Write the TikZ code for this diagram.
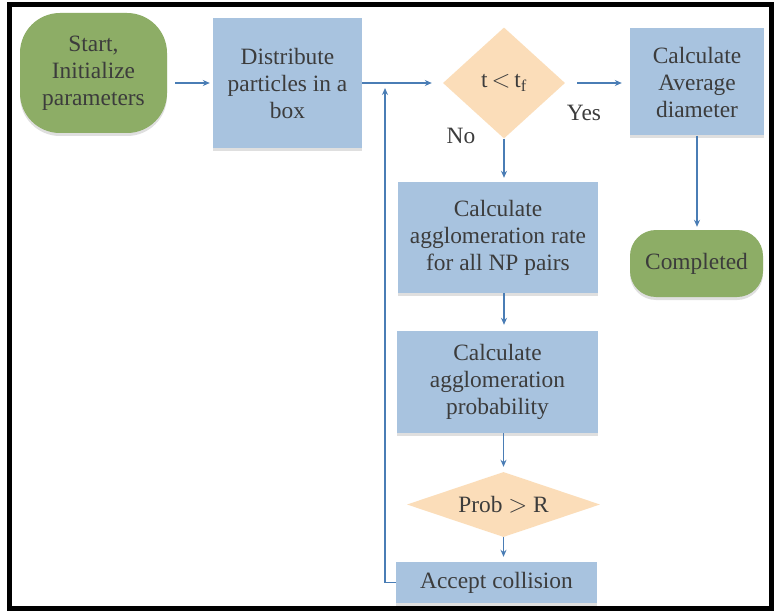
\documentclass[tikz,border=0pt]{standalone}
\usepackage{fontspec}
\setmainfont{Liberation Serif}
\newfontfamily\diagfont{Liberation Serif}
\usetikzlibrary{shapes.geometric,arrows.meta,shadows}
\definecolor{boxblue}{HTML}{A8C3DF}
\definecolor{startgreen}{HTML}{8DAD66}
\definecolor{peach}{HTML}{FBDDB9}
\definecolor{arrowblue}{HTML}{4A7DB5}
\definecolor{txt}{HTML}{3C3C3C}
\begin{document}
\begin{tikzpicture}[x=1pt,y=-1pt,
  every node/.style={font=\diagfont\fontsize{23.4}{27}\selectfont, text=txt, align=center},
  procbox/.style={rectangle, fill=boxblue, inner sep=2pt,
     drop shadow={shadow xshift=0pt, shadow yshift=-3pt, opacity=0.25, fill=gray}},
  termbox/.style={rectangle, fill=startgreen, inner sep=2pt,
     drop shadow={shadow xshift=0pt, shadow yshift=-3pt, opacity=0.25, fill=gray}},
  decbox/.style={diamond, fill=peach, inner sep=0pt},
  flow/.style={draw=arrowblue, line width=1.4pt, -{Stealth[length=7pt,width=6pt]}},
  lbl/.style={font=\diagfont\fontsize{23.4}{27}\selectfont, text=txt}
]
\useasboundingbox (0,0) rectangle (776,615);
\fill[white] (0,0) rectangle (776,615);
\draw[black, line width=5pt] (9.5,4.5) rectangle (771.5,608.5);

\node[termbox, rounded corners=40pt, minimum width=147pt, minimum height=120pt] (start) at (93.5,73) {Start,\\Initialize\\parameters};
\node[procbox, minimum width=149pt, minimum height=130pt] (dist) at (287.5,83) {Distribute\\particles in a\\box};
\node[decbox, minimum width=122pt, minimum height=111pt] (tdia) at (504,83) {t\,$<$\,t\textsubscript{f}};
\node[procbox, minimum width=134pt, minimum height=107pt] (avg) at (697,82) {Calculate\\Average\\diameter};
\node[termbox, rounded corners=26pt, minimum width=133pt, minimum height=67pt] (comp) at (696.5,263.5) {Completed};
\node[procbox, minimum width=200pt, minimum height=111pt] (rate) at (498,237.5) {Calculate\\agglomeration rate\\for all NP pairs};
\node[procbox, minimum width=201pt, minimum height=102pt] (prob) at (497.5,382) {Calculate\\agglomeration\\probability};
\node[decbox, shape aspect=3.4, minimum width=193pt, minimum height=65pt] (pdia) at (503.5,504.5) {Prob $>$ R};
\node[procbox, minimum width=201pt, minimum height=41pt] (acc) at (496.5,582.5) {Accept collision};

\node[lbl] (yes) at (584,113) {Yes};
\node[lbl] (no) at (461,136) {No};

\coordinate (lt) at (385,88);

\draw[flow, shorten <=8pt, shorten >=3pt] (start.east |- dist.west) -- (dist.west);
\draw[flow, shorten >=11pt] (dist.east) -- (tdia.west);
\draw[flow, shorten <=12pt, shorten >=8pt] (tdia.east) -- (tdia.east -| avg.west);
\draw[flow, shorten >=3pt] (avg.south) -- (avg.south |- comp.north);
\draw[flow, shorten >=4pt] (tdia.south) -- (tdia.south |- rate.north);
\draw[flow, shorten >=6pt] (rate.south -| tdia.south) -- (tdia.south |- prob.north);
\draw[flow, shorten >=5pt] (prob.south -| pdia.south) -- (pdia.north);
\draw[flow, shorten >=5pt] (pdia.south) -- (pdia.south |- acc.north);
\draw[flow] (acc.west) -| (lt);
\end{tikzpicture}
\end{document}
